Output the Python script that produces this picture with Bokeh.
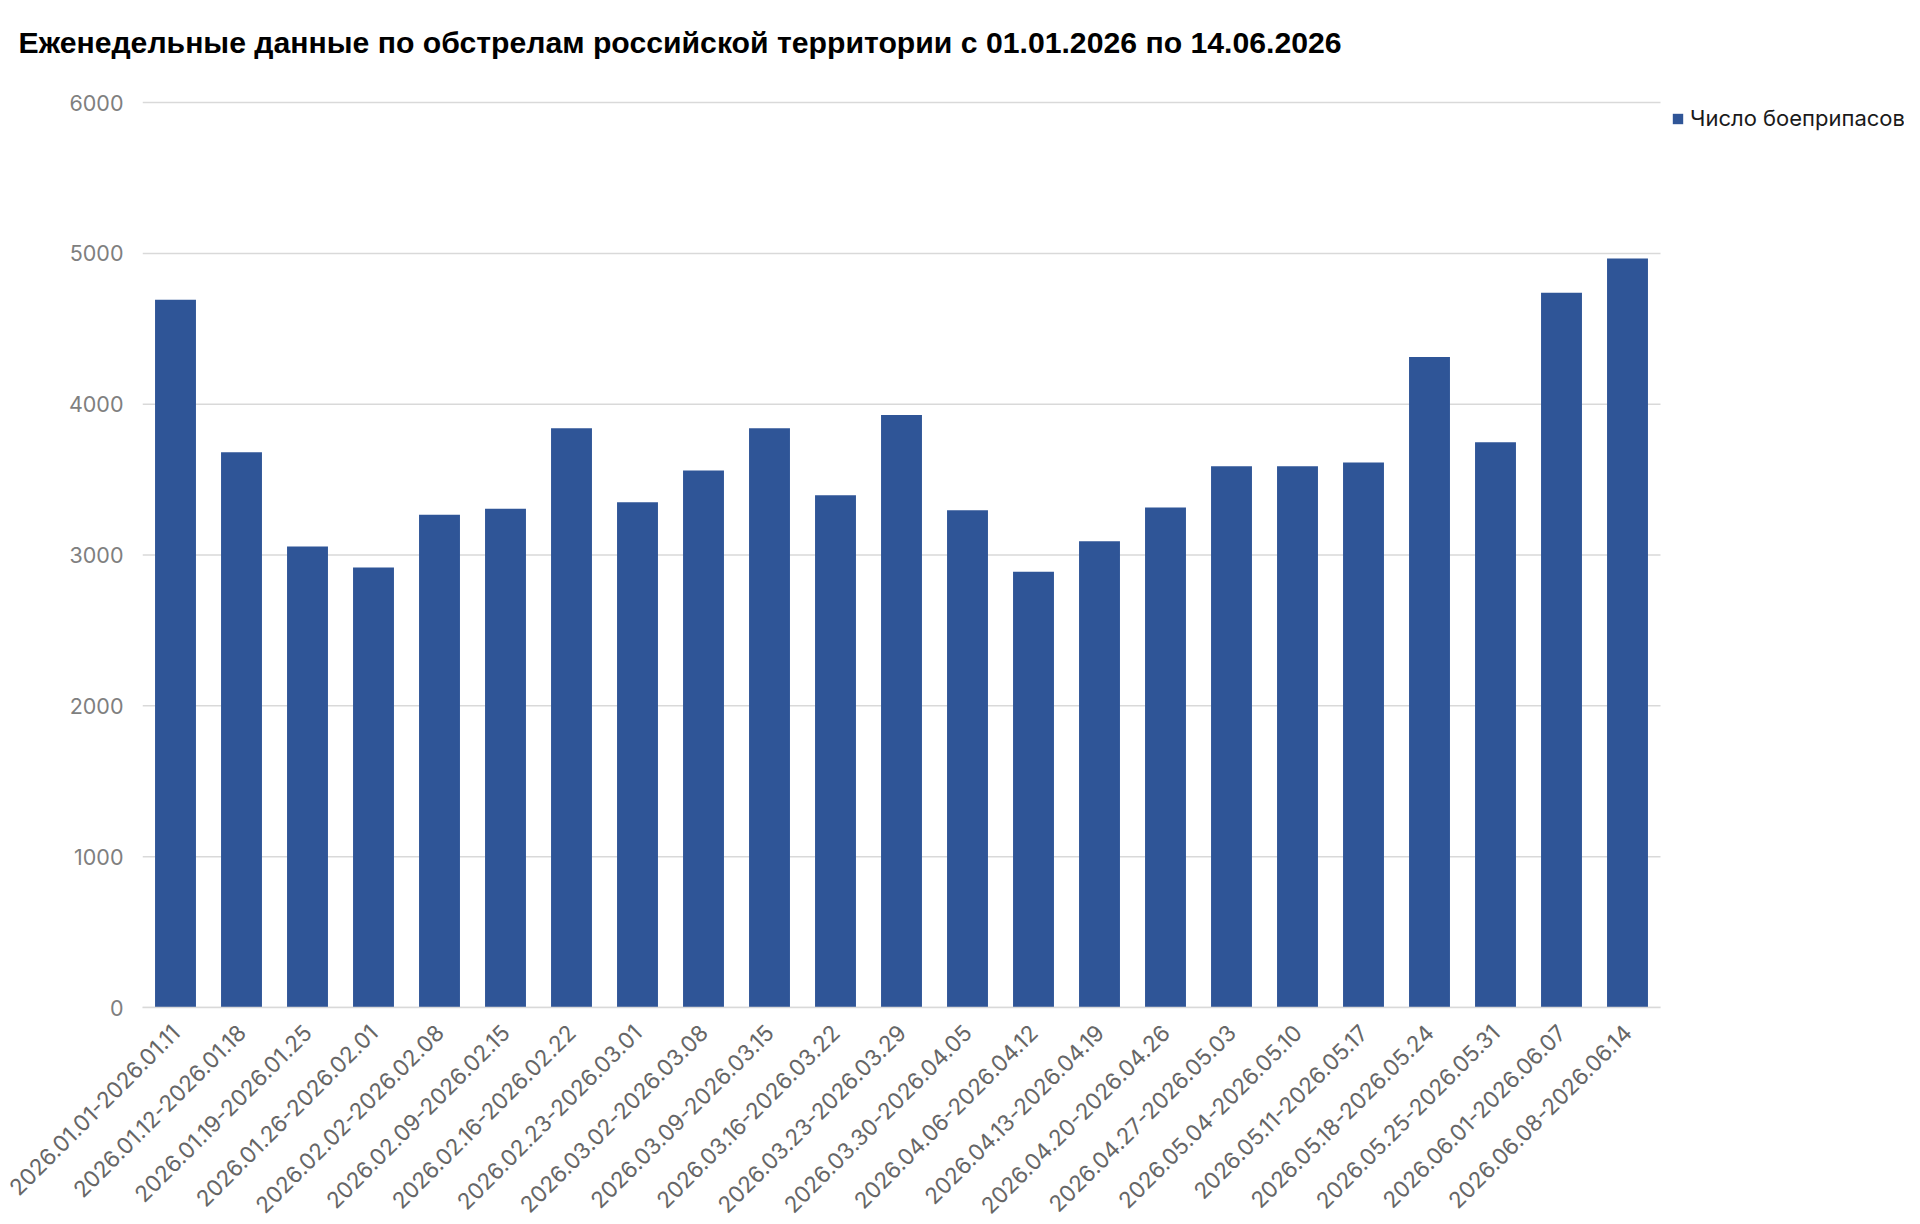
from bokeh.plotting import figure
from bokeh.models import (ColumnDataSource, Range1d, FixedTicker,
                          CustomJSTickFormatter, Legend, LegendItem, Title)
from bokeh.embed import file_html
from bokeh.resources import INLINE
import math

title_text = "Еженедельные данные по обстрелам российской территории с 01.01.2026 по 14.06.2026"
series_name = "Число боеприпасов"

weeks = [
    "2026.01.01-2026.01.11", "2026.01.12-2026.01.18", "2026.01.19-2026.01.25",
    "2026.01.26-2026.02.01", "2026.02.02-2026.02.08", "2026.02.09-2026.02.15",
    "2026.02.16-2026.02.22", "2026.02.23-2026.03.01", "2026.03.02-2026.03.08",
    "2026.03.09-2026.03.15", "2026.03.16-2026.03.22", "2026.03.23-2026.03.29",
    "2026.03.30-2026.04.05", "2026.04.06-2026.04.12", "2026.04.13-2026.04.19",
    "2026.04.20-2026.04.26", "2026.04.27-2026.05.03", "2026.05.04-2026.05.10",
    "2026.05.11-2026.05.17", "2026.05.18-2026.05.24", "2026.05.25-2026.05.31",
    "2026.06.01-2026.06.07", "2026.06.08-2026.06.14",
]
munitions = [4693, 3682, 3057, 2918, 3267, 3307, 3841, 3350, 3560, 3841, 3397, 3929,
             3297, 2889, 3092, 3315, 3589, 3589, 3613, 4313, 3748, 4739, 4967]
y_ticks = [0, 1000, 2000, 3000, 4000, 5000, 6000]

BAR_COLOR = "#2f5597"
GRID = "#d9d9d9"

n = len(weeks)
xs = [i + 0.5 for i in range(n)]

# layout (pixels)
W, H = 1904, 1224
LEFT, TOP, BOTTOM = 142, 70, 216
BAR_AREA = 1518          # width of the category area; the rest on the right holds the legend
x_end = n * (W - LEFT) / BAR_AREA

source = ColumnDataSource(data=dict(x=xs, week=weeks, value=munitions))
grid_src = ColumnDataSource(data=dict(y=y_ticks, x0=[0] * len(y_ticks), x1=[n] * len(y_ticks)))

p = figure(
    x_range=Range1d(0, x_end),
    y_range=Range1d(0, 6213),
    width=W, height=H,
    min_border_left=LEFT, min_border_right=0,
    min_border_top=TOP, min_border_bottom=BOTTOM,
    output_backend="svg", toolbar_location=None,
)
p.title = Title(text=title_text, text_font="Liberation Sans", text_font_size="30.2px",
                text_font_style="bold", text_color="#000000", align="left",
                offset=-124, standoff=24)

p.segment(x0="x0", x1="x1", y0="y", y1="y", source=grid_src,
          line_color=GRID, line_width=1.5)

r = p.vbar(x="x", top="value", width=0.62, source=source,
           fill_color=BAR_COLOR, line_color=None)

p.outline_line_color = None
p.background_fill_color = "white"
p.border_fill_color = "white"

p.xgrid.grid_line_color = None
p.ygrid.grid_line_color = None

p.yaxis.ticker = FixedTicker(ticks=y_ticks)
p.yaxis.axis_line_color = None
p.yaxis.major_tick_line_color = None
p.yaxis.major_tick_out = 0
p.yaxis.major_tick_in = 0
p.yaxis.minor_tick_line_color = None
p.yaxis.minor_tick_out = 0
p.yaxis.major_label_text_font = "Inter"
p.yaxis.major_label_text_font_size = "21.5px"
p.yaxis.major_label_text_color = "#7f7f7f"
p.yaxis.major_label_standoff = 19

p.xaxis.ticker = FixedTicker(ticks=xs)
p.xaxis.formatter = CustomJSTickFormatter(args=dict(labels=weeks),
                                          code="return labels[Math.floor(tick)]")
p.xaxis.bounds = (0, n)
p.xaxis.axis_line_color = GRID
p.xaxis.axis_line_width = 1.5
p.xaxis.major_tick_line_color = None
p.xaxis.major_tick_out = 0
p.xaxis.major_tick_in = 0
p.xaxis.minor_tick_line_color = None
p.xaxis.minor_tick_out = 0
p.xaxis.major_label_orientation = math.pi / 4
p.xaxis.major_label_text_font = "Inter"
p.xaxis.major_label_text_font_size = "22.5px"
p.xaxis.major_label_text_line_height = 1.0
p.xaxis.major_label_text_color = "#666666"
p.xaxis.major_label_standoff = 21

legend = Legend(items=[LegendItem(label=series_name, renderers=[r])],
                location=(BAR_AREA + 11, 876), margin=0, padding=0,
                glyph_width=13, glyph_height=13, label_standoff=6,
                label_text_font="Inter", label_text_font_size="22px",
                label_text_color="#1a1a1a",
                border_line_color=None, background_fill_alpha=0)
p.add_layout(legend, "center")

open("out.html", "w").write(file_html(p, INLINE))
